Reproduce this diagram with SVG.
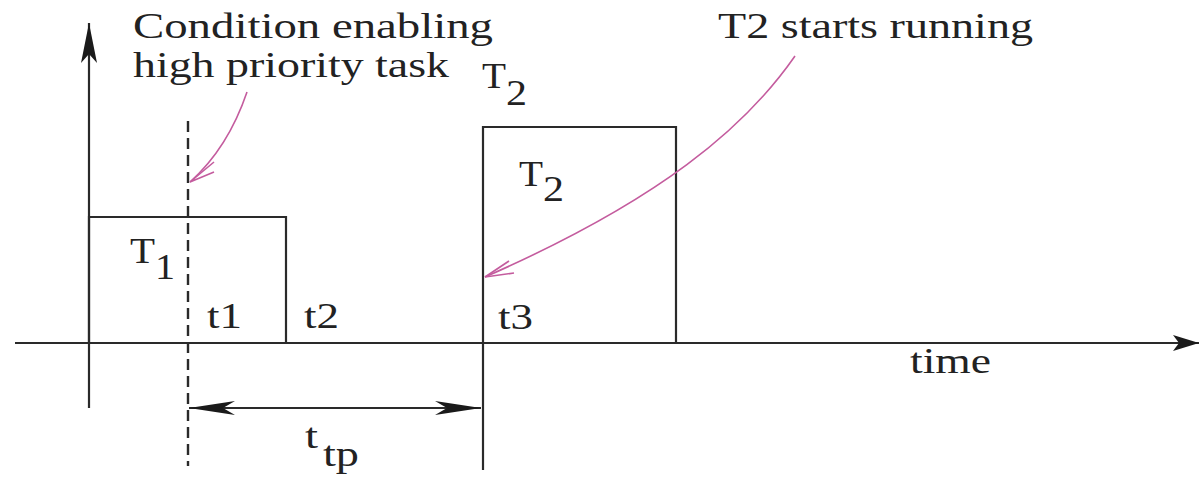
<svg xmlns="http://www.w3.org/2000/svg" width="1200" height="479" viewBox="0 0 1200 479">
<defs>
<style>
.ln{stroke:#2a2a2a;stroke-width:2.2;fill:none}
.dash{stroke:#2a2a2a;stroke-width:2.4;fill:none;stroke-dasharray:11 6}
.pk{stroke:#c45c9e;stroke-width:1.6;fill:none}
.tx{font-family:'Liberation Serif','Times New Roman',Times,serif;font-size:36px;fill:#222}
</style>
<marker id="ahLong" markerUnits="userSpaceOnUse" markerWidth="50" markerHeight="20" refX="48" refY="10" orient="auto-start-reverse" viewBox="0 0 50 20">
<path d="M48,10 L2,3 L14,10 L2,17 Z" fill="#1a1a1a"/>
</marker>
<marker id="ahY" markerUnits="userSpaceOnUse" markerWidth="42" markerHeight="20" refX="41" refY="10" orient="auto" viewBox="0 0 42 20">
<path d="M41,10 L1,2 L10,10 L1,18 Z" fill="#1a1a1a"/>
</marker>
<marker id="ahX" markerUnits="userSpaceOnUse" markerWidth="28" markerHeight="20" refX="27" refY="10" orient="auto" viewBox="0 0 28 20">
<path d="M27,10 L1,2 L7,10 L1,18 Z" fill="#1a1a1a"/>
</marker>
</defs>
<rect width="1200" height="479" fill="#ffffff"/>

<g id="axes">
<line class="ln" x1="89" y1="408" x2="89" y2="23" marker-end="url(#ahY)"/>
<line class="ln" x1="15" y1="343" x2="1199" y2="343" marker-end="url(#ahX)"/>
<text class="tx" x="910" y="373" textLength="81" lengthAdjust="spacingAndGlyphs">time</text>
</g>

<g id="task-T1">
<polyline class="ln" points="89,343 89,217 286,217 286,343"/>
<text class="tx" x="130" y="263" textLength="25" lengthAdjust="spacingAndGlyphs">T</text>
<text class="tx" x="155" y="279" textLength="20" lengthAdjust="spacingAndGlyphs">1</text>
</g>

<g id="task-T2">
<polyline class="ln" points="483,343 483,127 676,127 676,343"/>
<line class="ln" x1="483" y1="343" x2="483" y2="470"/>
<text class="tx" x="519" y="186" textLength="24" lengthAdjust="spacingAndGlyphs">T</text>
<text class="tx" x="543" y="201" textLength="21" lengthAdjust="spacingAndGlyphs">2</text>
<text class="tx" x="482" y="88" textLength="24" lengthAdjust="spacingAndGlyphs">T</text>
<text class="tx" x="506" y="105" textLength="21" lengthAdjust="spacingAndGlyphs">2</text>
</g>

<g id="condition-line">
<line class="dash" x1="188" y1="121" x2="188" y2="466"/>
</g>

<g id="labels">
<text class="tx" x="133" y="38" textLength="360" lengthAdjust="spacingAndGlyphs">Condition enabling</text>
<text class="tx" x="133" y="77" textLength="316" lengthAdjust="spacingAndGlyphs">high priority task</text>
<text class="tx" x="718" y="38" textLength="315" lengthAdjust="spacingAndGlyphs">T2 starts running</text>
<text class="tx" x="207" y="328" textLength="35" lengthAdjust="spacingAndGlyphs">t1</text>
<text class="tx" x="304" y="328" textLength="35" lengthAdjust="spacingAndGlyphs">t2</text>
<text class="tx" x="498" y="329" textLength="35" lengthAdjust="spacingAndGlyphs">t3</text>
<text class="tx" x="305" y="448" textLength="13" lengthAdjust="spacingAndGlyphs">t</text>
<text class="tx" x="323" y="466" textLength="36" lengthAdjust="spacingAndGlyphs">tp</text>
</g>

<g id="connectors">
<line class="ln" x1="189" y1="408" x2="481" y2="408" marker-start="url(#ahLong)" marker-end="url(#ahLong)"/>
<path class="pk" d="M247,92 Q228,148 190,182"/>
<path class="pk" d="M214,162 L190,182 L214,172"/>
<path class="pk" d="M795,56 C745,128 660,200 485,277"/>
<path class="pk" d="M509,261 L485,277 L514,273"/>
</g>
</svg>
